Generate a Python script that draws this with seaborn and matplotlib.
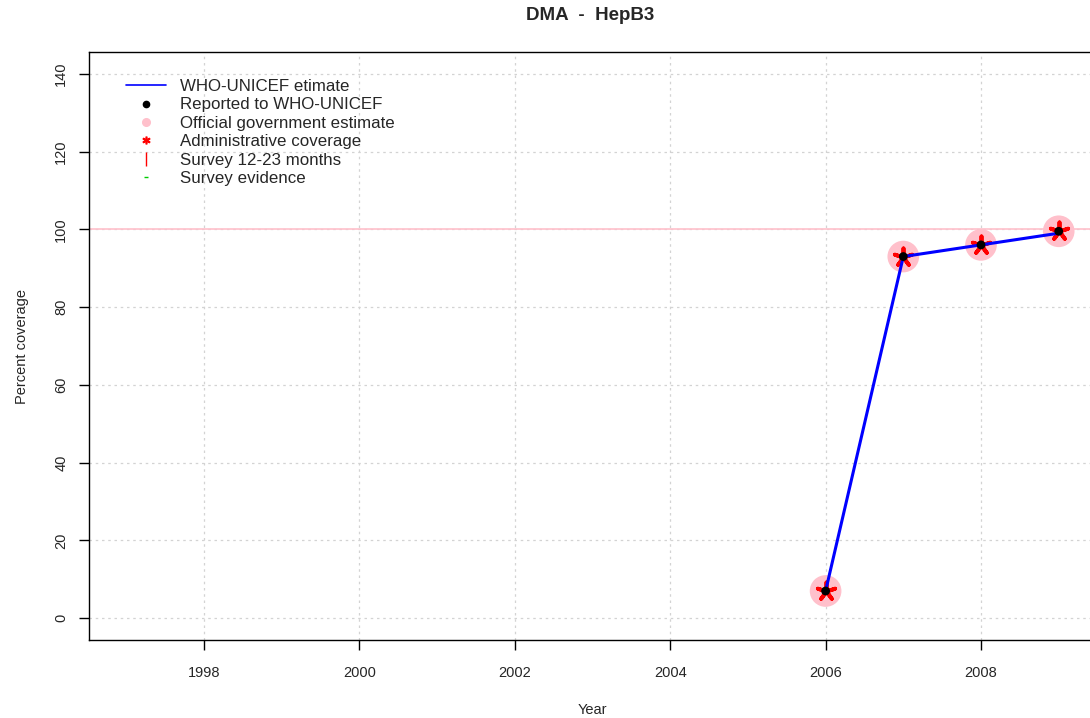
import matplotlib
matplotlib.use("Agg")
import matplotlib.pyplot as plt
import seaborn as sns
import pandas as pd
from matplotlib.lines import Line2D

years = [2006, 2007, 2008, 2009]
who_unicef = [7, 93, 96, 99]
reported = [7, 93, 96, 99.5]
official = [7, 93, 96, 99.5]
administrative = [7, 93, 96, 99.5]

x_ticks = [1998, 2000, 2002, 2004, 2006, 2008]
y_ticks = [0, 20, 40, 60, 80, 100, 120, 140]

sns.set_style("white")
plt.rcParams['font.family'] = ['Liberation Sans', 'DejaVu Sans']

fig = plt.figure(figsize=(10.9, 7.18), dpi=100)
ax = fig.add_axes([89/1090, 1-640/718, (1096-89)/1090, (640-52)/718])

df = pd.DataFrame({"year": years, "who": who_unicef, "rep": reported,
                   "off": official, "adm": administrative})

ax.axhline(100, color="pink", lw=1.2, zorder=1)
for t in x_ticks:
    ax.axvline(t, color="lightgray", ls=(0, (2, 3)), lw=0.9, zorder=0)
for t in y_ticks:
    ax.axhline(t, color="lightgray", ls=(0, (2, 3)), lw=0.9, zorder=0)

sns.scatterplot(data=df, x="year", y="off", ax=ax, s=520, color="pink",
                edgecolor="none", zorder=2, legend=False)
sns.scatterplot(data=df, x="year", y="adm", ax=ax, s=170, marker=(5, 2, 0),
                color="red", linewidth=2.8, zorder=3, legend=False)
sns.lineplot(data=df, x="year", y="who", ax=ax, color="blue", lw=2.2,
             zorder=4, legend=False)
sns.scatterplot(data=df, x="year", y="rep", ax=ax, s=40, color="black",
                edgecolor="none", zorder=5, legend=False)

ax.set_xlim(1996.52, 2009.48)
ax.set_ylim(-5.6, 145.6)
ax.set_xticks(x_ticks)
ax.set_xticklabels([str(t) for t in x_ticks], fontsize=10.5)
ax.set_yticks(y_ticks)
ax.set_yticklabels([str(t) for t in y_ticks], fontsize=10.5, rotation=90, va="center")
ax.tick_params(axis="both", direction="out", length=7, width=1, color="black",
               bottom=True, left=True)
ax.tick_params(axis="x", pad=12)
ax.tick_params(axis="y", pad=8)
for sp in ax.spines.values():
    sp.set_color("black")
    sp.set_linewidth(1)

ax.set_xlabel("Year", fontsize=10.5, labelpad=16)
ax.set_ylabel("Percent coverage", fontsize=10.5, labelpad=18)
fig.text(590/1090, 1-15/718, "DMA  -  HepB3", fontsize=13.5, fontweight="bold",
         ha="center", va="center")

handles = [
    Line2D([], [], color="blue", lw=1.2),
    Line2D([], [], ls="none", marker="o", color="black", markersize=4.5),
    Line2D([], [], ls="none", marker="o", color="pink", markersize=5.5),
    Line2D([], [], ls="none", marker="$*$", color="red", markersize=5),
    Line2D([], [], ls="none", marker="|", color="red", markersize=10),
    Line2D([], [], ls="none", marker="_", color="#00cc00", markersize=3),
]
labels = ["WHO-UNICEF etimate", "Reported to WHO-UNICEF", "Official government estimate",
          "Administrative coverage", "Survey 12-23 months", "Survey evidence"]
ax.legend(handles, labels, loc="upper left", bbox_to_anchor=(0.023, 0.977),
          frameon=False, fontsize=12.2, handlelength=2.4, labelspacing=0.2,
          handletextpad=0.8, borderpad=0.3)

fig.savefig("out.png", dpi=100)
